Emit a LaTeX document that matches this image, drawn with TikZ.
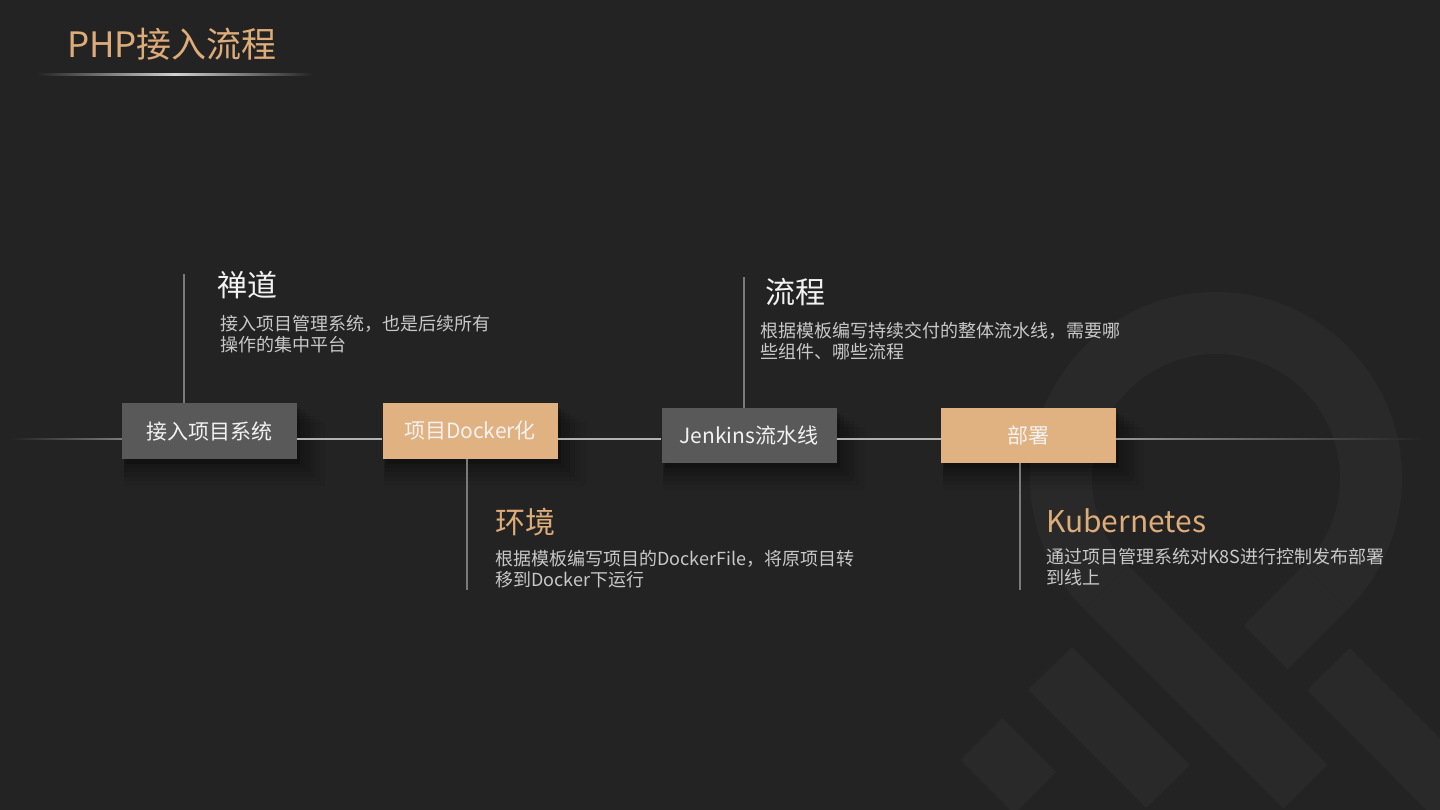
\documentclass[tikz,border=0pt]{standalone}
\usepackage{fontspec}
\setmainfont{Noto Sans CJK SC}
\definecolor{slidebg}{RGB}{35,35,35}
\definecolor{logogray}{RGB}{41,41,41}
\definecolor{boxgray}{RGB}{89,89,89}
\definecolor{boxtan}{RGB}{224,178,129}
\definecolor{texttan}{RGB}{221,172,121}
\definecolor{desctext}{RGB}{200,200,200}
\definecolor{headwhite}{RGB}{242,242,242}
\definecolor{linegray}{RGB}{122,122,122}
\definecolor{midline}{RGB}{178,178,178}
\usetikzlibrary{positioning,shadows,calc}

\tikzset{
  flowbox/.style={minimum width=175pt,minimum height=56pt,inner sep=0pt,
    text=headwhite,font=\fontsize{21}{25}\selectfont,
    drop shadow={shadow xshift=3pt,shadow yshift=-5pt,opacity=.12,fill=black},
    drop shadow={shadow xshift=5pt,shadow yshift=-8pt,shadow scale=1.03,opacity=.1,fill=black},
    drop shadow={shadow xshift=7pt,shadow yshift=-11pt,shadow scale=1.06,opacity=.08,fill=black},
    drop shadow={shadow xshift=9pt,shadow yshift=-14pt,shadow scale=1.09,opacity=.07,fill=black},
    drop shadow={shadow xshift=11pt,shadow yshift=-17pt,shadow scale=1.12,opacity=.05,fill=black},
    drop shadow={shadow xshift=13pt,shadow yshift=-20pt,shadow scale=1.15,opacity=.04,fill=black}},
  greybox/.style={flowbox,fill=boxgray},
  goldbox/.style={flowbox,fill=boxtan},
  heading/.style={anchor=north west,inner sep=0pt,font=\fontsize{30}{36}\selectfont},
  desc/.style={inner sep=0pt,align=left,text=desctext,font=\fontsize{18}{21}\selectfont},
  stemline/.style={draw=linegray,line width=1.2pt},
  timeline/.style={draw=midline,line width=1.2pt},
}

\begin{document}
\begin{tikzpicture}[x=1pt,y=-1pt]
  \fill[slidebg] (0,0) rectangle (1440,810);
  \useasboundingbox (0,0) rectangle (1440,810);

  % logo in the background
  \begin{scope}
    \clip (0,0) rectangle (1440,810);
    \coordinate (ringc) at (1216,478);
    \fill[logogray] ([shift={(135:186)}]ringc) arc[start angle=135,end angle=405,radius=186]
      -- ([shift={(45:124)}]ringc) arc[start angle=45,end angle=-225,radius=124] -- cycle;
    \fill[logogray] ([shift={(135:186)}]ringc) -- ([shift={(135:124)}]ringc)
      -- ++(199,199) -- ++(-43.8,43.8) -- cycle;
    \fill[logogray] ([shift={(45:186)}]ringc) -- ([shift={(45:124)}]ringc)
      -- ++(-60,60) -- ++(43.8,43.8) -- cycle;
    \fill[logogray] (960,760) -- (1002,718) -- (1056,772) -- (1014,814) -- cycle;
    \fill[logogray] (1028,690) -- (1072,647) -- (1190,765) -- (1146,808) -- cycle;
    \fill[logogray] (1307,690) -- (1350,648) -- (1520,818) -- (1477,861) -- cycle;
  \end{scope}

  % title
  \node[anchor=base west,inner sep=0pt,text=texttan,font=\fontsize{35}{40}\selectfont]
    (title) at (67,58) {PHP接入流程};
  \shade[left color=slidebg,right color=slidebg,middle color=white!82!black]
    (37,73.5) rectangle (313,75.5);

  % steps
  \node[greybox] (sys) at (209.5,431) {接入项目系统};
  \node[goldbox] (docker) at (470,431) {项目Docker化};
  \node[greybox,minimum height=55pt] (jenkins) at (749,435.5) {Jenkins流水线};
  \node[goldbox,minimum height=55pt] (deploy) at (1028.5,435.5) {部署};

  % time line
  \coordinate (lineL) at (10,439);
  \coordinate (lineR) at (1425,439);
  \shade[left color=slidebg,right color=linegray]
    ($(lineL)+(0,-0.6)$) rectangle ($(sys.west |- lineL)+(0,0.6)$);
  \draw[timeline] (sys.east |- lineL) -- (docker.west |- lineL);
  \draw[timeline] (docker.east |- lineL) -- (jenkins.west |- lineL);
  \draw[timeline] (jenkins.east |- lineL) -- (deploy.west |- lineL);
  \shade[left color=midline!80!slidebg,right color=slidebg]
    ($(deploy.east |- lineR)+(0,-0.6)$) rectangle ($(lineR)+(0,0.6)$);

  % stems
  \coordinate (stem1) at (184,274);
  \coordinate (stem2) at (467,590);
  \coordinate (stem3) at (744,277);
  \coordinate (stem4) at (1020,590);
  \draw[stemline] (stem1) -- (stem1 |- sys.north);
  \draw[stemline] (stem2 |- docker.south) -- (stem2);
  \draw[stemline] (stem3) -- (stem3 |- jenkins.north);
  \draw[stemline] (stem4 |- deploy.south) -- (stem4);

  % notes
  \node[heading,text=headwhite] (zentao) at (217,271) {禅道};
  \node[desc,below right=16pt and 3pt of zentao.south west] (zentaotxt)
    {接入项目管理系统，也是后续所有\\操作的集中平台};
  \node[heading,text=headwhite] (flow) at (765,278) {流程};
  \node[desc,below right=16pt and -5pt of flow.south west] (flowtxt)
    {根据模板编写持续交付的整体流水线，需要哪\\些组件、哪些流程};
  \node[heading,text=texttan] (env) at (495,508) {环境};
  \node[desc,below right=14pt and 0pt of env.south west] (envtxt)
    {根据模板编写项目的DockerFile，将原项目转\\移到Docker下运行};
  \node[heading,text=texttan] (k8s) at (1046,508) {Kubernetes};
  \node[desc,below right=15pt and 0pt of k8s.south west] (k8stxt)
    {通过项目管理系统对K8S进行控制发布部署\\到线上};
\end{tikzpicture}
\end{document}
